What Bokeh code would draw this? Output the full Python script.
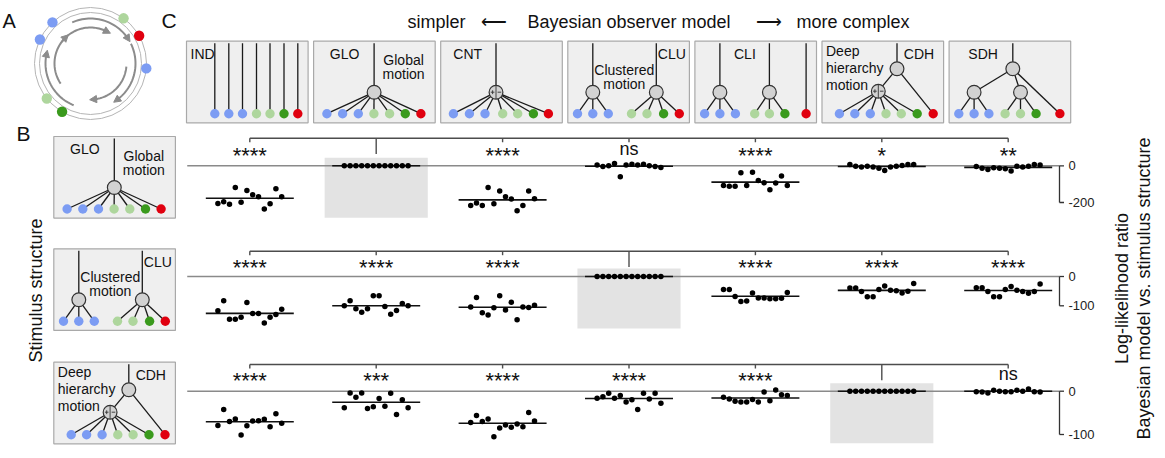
import math
from bokeh.plotting import figure
from bokeh.models import Range1d
from bokeh.core.properties import value
from bokeh.embed import file_html
from bokeh.resources import INLINE

FONT = "Liberation Sans"

# ---------------- data ----------------
MODELS = ["IND", "GLO", "CNT", "CLU", "CLI", "CDH", "SDH"]
STIMULI = ["GLO", "CLU", "CDH"]

# stimulus GLO: log-likelihood ratio (model vs. GLO), 12 participants
glo_IND = [-205, -196, -209, -118, -198, -134, -158, -169, -236, -207, -125, -169]
glo_GLO = [0, 0, 0, 0, 0, 0, 0, 0, 0, 0, 0, 0]
glo_CNT = [-216, -203, -216, -118, -207, -138, -169, -181, -245, -216, -138, -180]
glo_CLU = [5, -4, 0, 13, -60, 5, 9, 4, 9, 0, -4, -9]
glo_CLI = [-107, -111, -111, -38, -107, -35, -80, -93, -131, -94, -56, -107]
glo_CDH = [7, -2, -7, -2, -7, -13, -25, -7, -2, 2, 7, 7]
glo_SDH = [-4, -13, -20, -11, -13, -16, -29, -2, -7, -2, 7, 5]

# stimulus CLU
clu_IND = [-117, -83, -146, -146, -139, -89, -126, -126, -159, -139, -130, -112]
clu_GLO = [-100, -83, -110, -122, -110, -66, -66, -102, -129, -116, -92, -100]
clu_CNT = [-104, -72, -124, -131, -107, -66, -114, -88, -148, -104, -106, -98]
clu_CLU = [0, 0, 0, 0, 0, 0, 0, 0, 0, 0, 0, 0]
clu_CLI = [-44, -44, -68, -85, -84, -56, -73, -73, -76, -76, -74, -55]
clu_CDH = [-39, -39, -51, -69, -69, -44, -32, -47, -49, -56, -50, -24]
clu_SDH = [-38, -38, -51, -69, -69, -44, -34, -47, -51, -57, -51, -26]

# stimulus CDH
cdh_IND = [-79, -42, -70, -64, -101, -80, -69, -68, -65, -82, -52, -74]
cdh_GLO = [-38, -4, -14, -4, -40, -36, -17, -35, -5, -54, -20, -38]
cdh_CNT = [-72, -56, -70, -64, -105, -85, -78, -83, -76, -82, -49, -69]
cdh_CLU = [-16, -13, -5, -16, -10, -25, -20, -42, -5, -18, -5, -28]
cdh_CLI = [-14, -18, -23, -25, -25, -19, -25, -2, -22, 3, -8, -10]
cdh_CDH = [0, 0, 0, 0, 0, 0, 0, 0, 0, 0, 0, 0]
cdh_SDH = [-1, -2, -4, 2, 0, -1, -1, 2, 0, 5, -1, -2]

ROWS = [
    [glo_IND, glo_GLO, glo_CNT, glo_CLU, glo_CLI, glo_CDH, glo_SDH],
    [clu_IND, clu_GLO, clu_CNT, clu_CLU, clu_CLI, clu_CDH, clu_SDH],
    [cdh_IND, cdh_GLO, cdh_CNT, cdh_CLU, cdh_CLI, cdh_CDH, cdh_SDH],
]
SIG_GLO = ["****", "", "****", "ns", "****", "*", "**"]
SIG_CLU = ["****", "****", "****", "", "****", "****", "****"]
SIG_CDH = ["****", "***", "****", "****", "****", "", "ns"]
SIGS = [SIG_GLO, SIG_CLU, SIG_CDH]
TICKS_GLO = [0, -200]
TICKS_CLU = [0, -100]
TICKS_CDH = [0, -100]
TICKS = [TICKS_GLO, TICKS_CLU, TICKS_CDH]

TITLE_PARTS = ["simpler", "\u27f5", "Bayesian observer model", "\u27f6", "more complex"]
YLABEL_LEFT = "Stimulus structure"
YLABEL_RIGHT = ["Log-likelihood ratio", "Bayesian model vs. stimulus structure"]

# ---------------- layout / style ----------------
W, H = 1165, 458
X0, Y0 = 0, 0
C0, DX = 249.3, 126.4            # first model column centre, px per model
ROW_ZERO = [165.3, 276.0, 390.7]  # px of value 0 per row
ROW_PXU = [36.7 / 200, 29.3 / 100, 43.3 / 100]
BRACKET_Y = [137.7, 250.7, 364.0]
STAR_Y = [150.0, 262.0, 375.0]
AXIS_X = 1059.0
BLUE, LGREEN, GREEN, RED = "#7c9cf3", "#aed69d", "#3a9a1d", "#e0000f"
LEAF_COLORS = [BLUE, BLUE, BLUE, LGREEN, LGREEN, GREEN, RED]
NODE_FILL, BOX_FILL, BOX_LINE = "#d2d2d2", "#efefef", "#a9a9a9"

p = figure(width=W, height=H, x_range=Range1d(X0, X0 + W), y_range=Range1d(Y0 + H, Y0),
           output_backend="svg", toolbar_location=None, min_border=0,
           x_axis_location=None, y_axis_location=None)
p.title.visible = False
p.grid.visible = False
p.outline_line_color = None
p.background_fill_color = "white"
p.border_fill_color = "white"

p.extra_x_ranges = {"models": Range1d((X0 - C0) / DX, (X0 + W - C0) / DX)}
p.extra_y_ranges = {
    f"r{r}": Range1d((ROW_ZERO[r] - (Y0 + H)) / ROW_PXU[r], (ROW_ZERO[r] - Y0) / ROW_PXU[r])
    for r in range(3)
}


def txt(xs, ys, ss, size, align="left", baseline="middle", angle=0.0, color="#111111", **kw):
    p.text(x=xs, y=ys, text=ss, text_font=value(FONT), text_font_size=value(f"{size}px"),
           text_align=align, text_baseline=baseline, angle=angle, text_color=color, **kw)


# ---------------- tree diagrams ----------------
LEAF_Y, NODE_Y, TOP_NODE_Y, ROOT_TOP = 72.5, 51.0, 27.5, 2.0
TREES = {
    "IND": dict(leaves=[28.3, 42.3, 56, 70, 83.5, 97.5, 111.3], nodes=[], edges=[],
                roots=[("L", i) for i in range(7)],
                labels=[("IND", 4, 12.5, "left")]),
    "GLO": dict(leaves=[13.3, 29, 44.7, 60.3, 76, 91.7, 107.3], nodes=[(60.5, NODE_Y, "n")],
                edges=[(("N", 0), ("L", i)) for i in range(7)], roots=[("N", 0)],
                labels=[("GLO", 31, 12.5, "center"), ("Global", 90, 19, "center"),
                        ("motion", 90, 33, "center")]),
    "CNT": dict(leaves=[12.7, 28.7, 44.3, 62, 77, 92.7, 107.7], nodes=[(55.3, NODE_Y, "pm")],
                edges=[(("N", 0), ("L", i)) for i in range(7)], roots=[("N", 0)],
                labels=[("CNT", 27, 12.5, "center")]),
    "CLU": dict(leaves=[9.7, 25, 40.5, 63.7, 79.2, 95.8, 111.5],
                nodes=[(25, NODE_Y, "n"), (88.5, NODE_Y, "n")],
                edges=[(("N", 0), ("L", i)) for i in range(3)] + [(("N", 1), ("L", i)) for i in range(3, 7)],
                roots=[("N", 0), ("N", 1)],
                labels=[("Clustered", 56.5, 28.5, "center"), ("motion", 56.5, 42.5, "center"),
                        ("CLU", 104, 13, "center")]),
    "CLI": dict(leaves=[9.7, 25, 40.5, 59.8, 74.5, 90, 111.2],
                nodes=[(25, NODE_Y, "n"), (74.5, NODE_Y, "n")],
                edges=[(("N", 0), ("L", i)) for i in range(3)] + [(("N", 1), ("L", i)) for i in range(3, 6)],
                roots=[("N", 0), ("N", 1), ("L", 6)],
                labels=[("CLI", 50, 12.5, "center")]),
    "CDH": dict(leaves=[17.4, 32.8, 48.3, 64, 79.3, 95.2, 111.2],
                nodes=[(56.3, 50, "pm"), (75, TOP_NODE_Y, "n")],
                edges=[(("N", 0), ("L", i)) for i in range(6)] + [(("N", 1), ("N", 0)), (("N", 1), ("L", 6))],
                roots=[("N", 1)],
                labels=[("Deep", 4, 9.5, "left"), ("hierarchy", 4, 26.5, "left"),
                        ("motion", 4, 43.5, "left"), ("CDH", 97, 12.5, "center")]),
    "SDH": dict(leaves=[9.7, 25, 39.8, 56, 71.4, 87, 110.8],
                nodes=[(25, NODE_Y, "n"), (71.4, NODE_Y, "n"), (63.7, TOP_NODE_Y, "n")],
                edges=[(("N", 0), ("L", i)) for i in range(3)] + [(("N", 1), ("L", i)) for i in range(3, 6)]
                + [(("N", 2), ("N", 0)), (("N", 2), ("N", 1)), (("N", 2), ("L", 6))],
                roots=[("N", 2)],
                labels=[("SDH", 34, 12.5, "center")]),
}
BOX_W, BOX_H = 121.6, 81.6


def draw_tree(name, left, top):
    t = TREES[name]
    p.quad(left=[left], right=[left + BOX_W], top=[top], bottom=[top + BOX_H],
           fill_color=BOX_FILL, line_color=BOX_LINE, line_width=1.2)

    def pos(ref):
        if ref[0] == "L":
            return left + t["leaves"][ref[1]], top + LEAF_Y
        n = t["nodes"][ref[1]]
        return left + n[0], top + n[1]

    x0, y0, x1, y1 = [], [], [], []
    for a, b in t["edges"]:
        (ax, ay), (bx, by) = pos(a), pos(b)
        x0.append(ax); y0.append(ay); x1.append(bx); y1.append(by)
    for r in t["roots"]:
        rx, ry = pos(r)
        x0.append(rx); y0.append(ry); x1.append(rx); y1.append(top + ROOT_TOP)
    p.segment(x0=x0, y0=y0, x1=x1, y1=y1, line_color="#1a1a1a", line_width=1.3)
    p.circle(x=[left + v for v in t["leaves"]], y=[top + LEAF_Y] * 7, radius=4.7,
             fill_color=LEAF_COLORS, line_color=None)
    if t["nodes"]:
        nx = [left + n[0] for n in t["nodes"]]
        ny = [top + n[1] for n in t["nodes"]]
        p.circle(x=nx, y=ny, radius=6.9, fill_color=NODE_FILL, line_color="#333333", line_width=1.2)
        for n in t["nodes"]:
            if n[2] == "pm":
                cx, cy = left + n[0], top + n[1]
                p.segment(x0=[cx, cx - 5.2, cx - 3.4, cx + 1.6], y0=[cy - 6.9, cy, cy - 1.9, cy],
                          x1=[cx, cx - 1.6, cx - 3.4, cx + 5.2], y1=[cy + 6.9, cy, cy + 1.9, cy],
                          line_color="#333333", line_width=0.9)
    for s, lx, ly, al in t["labels"]:
        txt([left + lx], [top + ly], [s], 14, align=al)


TOP_BOX_LEFT, TOP_BOX_STEP, TOP_BOX_TOP = 186.0, 127.1, 40.7
for k, m in enumerate(MODELS):
    draw_tree(m, TOP_BOX_LEFT + k * TOP_BOX_STEP, TOP_BOX_TOP)

B_BOX_LEFT = 53.3
B_BOX_TOPS = [136.0, 248.3, 361.7]
for r, s in enumerate(STIMULI):
    draw_tree(s, B_BOX_LEFT, B_BOX_TOPS[r])

# ---------------- panel A: rotating ring ----------------
ACX, ACY = 90.0, 63.0
for rad in (56.0, 51.0):
    p.circle(x=[ACX], y=[ACY], radius=rad, fill_color=None, line_color="#b5b5b5", line_width=1)
ARCS = [(45, 114, 34), (45, 26, -54), (45, 248, 168), (36, 143, 63), (36, -5, -85), (36, 214, 134)]
axs, ays, tri_x, tri_y = [], [], [], []
for rad, a0, a1 in ARCS:
    n = 30
    angs = [math.radians(a0 + (a1 - a0) * i / n) for i in range(n + 1)]
    axs.append([ACX + rad * math.cos(a) for a in angs])
    ays.append([ACY - rad * math.sin(a) for a in angs])
    a = math.radians(a1)
    ex, ey = ACX + rad * math.cos(a), ACY - rad * math.sin(a)
    tx, ty = math.sin(a), math.cos(a)      # clockwise tangent (screen)
    nx_, ny_ = math.cos(a), -math.sin(a)
    tip = (ex + tx * 4, ey + ty * 4)
    b = (ex - tx * 3, ey - ty * 3)
    tri_x.append([tip[0], b[0] + nx_ * 3.6, b[0] - nx_ * 3.6])
    tri_y.append([tip[1], b[1] + ny_ * 3.6, b[1] - ny_ * 3.6])
p.multi_line(xs=axs, ys=ays, line_color="#8c8c8c", line_width=2)
p.patches(xs=tri_x, ys=tri_y, fill_color="#8c8c8c", line_color="#8c8c8c")
RING_ANG = [132.8, 154.6, 53.8, 29.7, -5.0, 218.7, 239.5]
RING_COL = [BLUE, BLUE, LGREEN, RED, BLUE, LGREEN, GREEN]
p.circle(x=[ACX + 56 * math.cos(math.radians(a)) for a in RING_ANG],
         y=[ACY - 56 * math.sin(math.radians(a)) for a in RING_ANG],
         radius=5.2, fill_color=RING_COL, line_color=None)

# ---------------- panel labels & titles ----------------
txt([2], [20], ["A"], 20)
txt([16], [132.5], ["B"], 21)
txt([161], [20], ["C"], 21)
txt([407, 480, 527, 755, 796], [21] * 5, TITLE_PARTS, 18)
txt([35], [290], [YLABEL_LEFT], 18, align="center", angle=math.pi / 2)
txt([1121, 1143], [288, 288], YLABEL_RIGHT, 18, align="center", angle=math.pi / 2)

# ---------------- strip plots ----------------
OFFS = [(k - 5.5) * 5.8 / DX for k in range(12)]
HALF_MEAN = 0.348
for r in range(3):
    yr = f"r{r}"
    pxu = ROW_PXU[r]
    ref = MODELS.index(STIMULI[r])
    # highlight of the true model
    p.quad(left=[ref - 0.408], right=[ref + 0.408], top=[8 / pxu], bottom=[-52 / pxu],
           fill_color="#e3e3e3", line_color=None, x_range_name="models", y_range_name=yr)
    # zero line
    p.segment(x0=[-0.495], x1=[(AXIS_X - C0) / DX], y0=[0], y1=[0], line_color="#8a8a8a",
              line_width=1.5, x_range_name="models", y_range_name=yr)
    # bracket
    by = BRACKET_Y[r]
    p.segment(x0=[0], x1=[6], y0=[by], y1=[by], line_color="#4d4d4d", line_width=1.4,
              x_range_name="models")
    p.segment(x0=list(range(7)), x1=list(range(7)), y0=[by] * 7,
              y1=[by + (15.7 if i == ref else 4) for i in range(7)],
              line_color="#4d4d4d", line_width=1.4, x_range_name="models")
    stars = [(i, s) for i, s in enumerate(SIGS[r]) if s and s != "ns"]
    nss = [(i, s) for i, s in enumerate(SIGS[r]) if s == "ns"]
    if stars:
        txt([i for i, _ in stars], [STAR_Y[r] + 5] * len(stars), [s for _, s in stars], 22,
            align="center", x_range_name="models")
    if nss:
        txt([i for i, _ in nss], [STAR_Y[r] - 1.5] * len(nss), [s for _, s in nss], 18,
            align="center", x_range_name="models")
    # data
    xs, ys, mx0, mx1, my = [], [], [], [], []
    for i, vals in enumerate(ROWS[r]):
        xs += [i + o for o in OFFS]
        ys += vals
        m = sum(vals) / len(vals)
        mx0.append(i - HALF_MEAN); mx1.append(i + HALF_MEAN); my.append(m)
    p.segment(x0=mx0, x1=mx1, y0=my, y1=my, line_color="#111111", line_width=1.6,
              x_range_name="models", y_range_name=yr)
    p.scatter(x=xs, y=ys, size=5.5, fill_color="black", line_color=None,
              x_range_name="models", y_range_name=yr)
    # right axis
    tk = TICKS[r]
    p.segment(x0=[AXIS_X], x1=[AXIS_X], y0=[tk[0]], y1=[tk[-1]], line_color="#333333",
              line_width=1.3, y_range_name=yr)
    p.segment(x0=[AXIS_X] * len(tk), x1=[AXIS_X + 4.5] * len(tk), y0=tk, y1=tk,
              line_color="#333333", line_width=1.3, y_range_name=yr)
    txt([AXIS_X + 9] * len(tk), tk, [str(v) for v in tk], 13, y_range_name=yr, color="#222222")

open("out.html", "w").write(file_html(p, INLINE))
